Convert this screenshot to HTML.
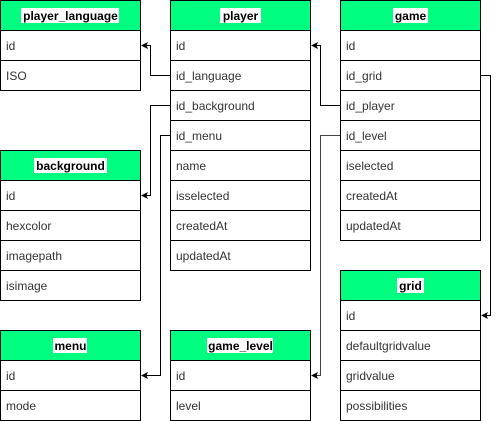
<!DOCTYPE html>
<html><head><style>
body{margin:0;background:#fff}
svg{display:block}
text{font-family:"Liberation Sans",Arial,sans-serif;font-size:12px;fill:#333}
.h{font-weight:bold;fill:#000;text-anchor:middle}
.hd{fill:#00ff80;stroke:#000}
.r{fill:#fff;stroke:#000}
.w{fill:#fff}
</style></head><body>
<svg width="500" height="421" viewBox="0 0 500 421" xmlns="http://www.w3.org/2000/svg">
<g fill="none" stroke="#000" stroke-width="1">
<path d="M170.5,75.5 H150.5 V45.5 H146"/>
<path d="M170.5,105.5 H150.5 V195.5 H146"/>
<path d="M170.5,135.5 H160.5 V375.5 H146"/>
<path d="M340.5,105.5 H320.5 V45.5 H316"/>
<path d="M340.5,135.5 H320.5 V375.5 H316" stroke="#444"/>
<path d="M480.5,75.5 H490.5 V315.5 H486"/>
</g>
<g fill="#000">
<path d="M141,45.5 L148,42 L146.5,45.5 L148,49 z"/>
<path d="M141,195.5 L148,192 L146.5,195.5 L148,199 z"/>
<path d="M141,375.5 L148,372 L146.5,375.5 L148,379 z"/>
<path d="M311,45.5 L318,42 L316.5,45.5 L318,49 z"/>
<path d="M311,375.5 L318,372 L316.5,375.5 L318,379 z"/>
<path d="M481,315.5 L488,312 L486.5,315.5 L488,319 z"/>
</g>

<!-- player_language -->
<rect class="hd" x="0.5" y="0.5" width="140" height="30"/>
<rect class="w" x="21" y="8" width="98" height="15"/>
<text class="h" x="70.5" y="20">player_language</text>
<rect class="r" x="0.5" y="30.5" width="140" height="30"/><text x="6" y="50">id</text>
<rect class="r" x="0.5" y="60.5" width="140" height="30"/><text x="6" y="80">ISO</text>

<!-- player -->
<rect class="hd" x="170.5" y="0.5" width="140" height="30"/>
<rect class="w" x="220" y="8" width="41" height="15"/>
<text class="h" x="240.5" y="20">player</text>
<rect class="r" x="170.5" y="30.5" width="140" height="30"/><text x="176" y="50">id</text>
<rect class="r" x="170.5" y="60.5" width="140" height="30"/><text x="176" y="80">id_language</text>
<rect class="r" x="170.5" y="90.5" width="140" height="30"/><text x="176" y="110">id_background</text>
<rect class="r" x="170.5" y="120.5" width="140" height="30"/><text x="176" y="140">id_menu</text>
<rect class="r" x="170.5" y="150.5" width="140" height="30"/><text x="176" y="170">name</text>
<rect class="r" x="170.5" y="180.5" width="140" height="30"/><text x="176" y="200">isselected</text>
<rect class="r" x="170.5" y="210.5" width="140" height="30"/><text x="176" y="230">createdAt</text>
<rect class="r" x="170.5" y="240.5" width="140" height="30"/><text x="176" y="260">updatedAt</text>

<!-- game -->
<rect class="hd" x="340.5" y="0.5" width="140" height="30"/>
<rect class="w" x="393" y="8" width="35" height="15"/>
<text class="h" x="410.5" y="20">game</text>
<rect class="r" x="340.5" y="30.5" width="140" height="30"/><text x="346" y="50">id</text>
<rect class="r" x="340.5" y="60.5" width="140" height="30"/><text x="346" y="80">id_grid</text>
<rect class="r" x="340.5" y="90.5" width="140" height="30"/><text x="346" y="110">id_player</text>
<rect class="r" x="340.5" y="120.5" width="140" height="30"/><text x="346" y="140">id_level</text>
<rect class="r" x="340.5" y="150.5" width="140" height="30"/><text x="346" y="170">iselected</text>
<rect class="r" x="340.5" y="180.5" width="140" height="30"/><text x="346" y="200">createdAt</text>
<rect class="r" x="340.5" y="210.5" width="140" height="30"/><text x="346" y="230">updatedAt</text>

<!-- background -->
<rect class="hd" x="0.5" y="150.5" width="140" height="30"/>
<rect class="w" x="34" y="158" width="73" height="15"/>
<text class="h" x="70.5" y="170">background</text>
<rect class="r" x="0.5" y="180.5" width="140" height="30"/><text x="6" y="200">id</text>
<rect class="r" x="0.5" y="210.5" width="140" height="30"/><text x="6" y="230">hexcolor</text>
<rect class="r" x="0.5" y="240.5" width="140" height="30"/><text x="6" y="260">imagepath</text>
<rect class="r" x="0.5" y="270.5" width="140" height="30"/><text x="6" y="290">isimage</text>

<!-- grid -->
<rect class="hd" x="340.5" y="270.5" width="140" height="30"/>
<rect class="w" x="397" y="278" width="27" height="15"/>
<text class="h" x="410.5" y="290">grid</text>
<rect class="r" x="340.5" y="300.5" width="140" height="30"/><text x="346" y="320">id</text>
<rect class="r" x="340.5" y="330.5" width="140" height="30"/><text x="346" y="350">defaultgridvalue</text>
<rect class="r" x="340.5" y="360.5" width="140" height="30"/><text x="346" y="380">gridvalue</text>
<rect class="r" x="340.5" y="390.5" width="140" height="30"/><text x="346" y="410">possibilities</text>

<!-- menu -->
<rect class="hd" x="0.5" y="330.5" width="140" height="30"/>
<rect class="w" x="53" y="338" width="34" height="15"/>
<text class="h" x="70.5" y="350">menu</text>
<rect class="r" x="0.5" y="360.5" width="140" height="30"/><text x="6" y="380">id</text>
<rect class="r" x="0.5" y="390.5" width="140" height="30"/><text x="6" y="410">mode</text>

<!-- game_level -->
<rect class="hd" x="170.5" y="330.5" width="140" height="30"/>
<rect class="w" x="207" y="338" width="66" height="15"/>
<text class="h" x="240.5" y="350">game_level</text>
<rect class="r" x="170.5" y="360.5" width="140" height="30"/><text x="176" y="380">id</text>
<rect class="r" x="170.5" y="390.5" width="140" height="30"/><text x="176" y="410">level</text>
</svg>
</body></html>
